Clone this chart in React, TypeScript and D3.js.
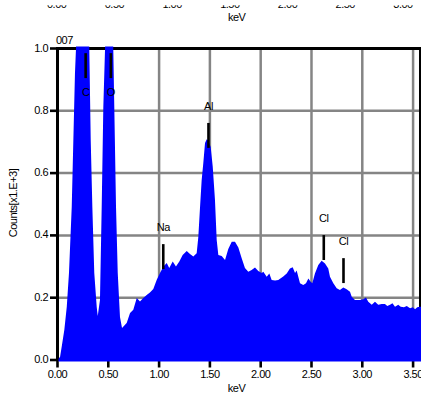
import React from "react";
import * as d3 from "d3";

// Spectrum samples: energy (keV) and counts (x1000)
const energies = [
  0.0, 0.025, 0.044, 0.067, 0.091, 0.113, 0.14, 0.156, 0.172, 0.182, 0.25, 0.313, 0.327, 0.343, 0.362, 0.386,
  0.396, 0.418, 0.435, 0.451, 0.468, 0.507, 0.549, 0.559, 0.576, 0.593, 0.615, 0.635, 0.681, 0.714, 0.746,
  0.78, 0.812, 0.844, 0.878, 0.91, 0.943, 0.976, 1.009, 1.041, 1.075, 1.1, 1.134, 1.166, 1.199, 1.232, 1.272,
  1.304, 1.337, 1.37, 1.386, 1.403, 1.419, 1.435, 1.452, 1.469, 1.484, 1.508, 1.528, 1.55, 1.567, 1.583,
  1.616, 1.649, 1.681, 1.715, 1.747, 1.78, 1.813, 1.845, 1.878, 1.911, 1.944, 1.976, 2.01, 2.026, 2.059,
  2.085, 2.108, 2.141, 2.173, 2.222, 2.256, 2.288, 2.315, 2.338, 2.354, 2.387, 2.419, 2.446, 2.469, 2.492,
  2.508, 2.534, 2.567, 2.6, 2.633, 2.665, 2.682, 2.715, 2.748, 2.78, 2.813, 2.846, 2.879, 2.896, 2.928,
  2.977, 3.01, 3.036, 3.059, 3.093, 3.125, 3.157, 3.191, 3.223, 3.246, 3.273, 3.297, 3.322, 3.354, 3.378,
  3.41, 3.438, 3.47, 3.497, 3.519, 3.541, 3.568, 3.6,
];
const counts = [
  0.002, 0.01, 0.048, 0.096, 0.17, 0.279, 0.491, 0.706, 0.921, 1.0, 2.4, 1.0, 0.706, 0.491, 0.279, 0.17,
  0.141, 0.193, 0.491, 0.812, 1.0, 1.8, 1.0, 0.812, 0.491, 0.279, 0.138, 0.103, 0.119, 0.151, 0.161,
  0.199, 0.188, 0.199, 0.209, 0.217, 0.228, 0.257, 0.279, 0.299, 0.311, 0.295, 0.316, 0.3, 0.316, 0.337, 0.35,
  0.34, 0.332, 0.343, 0.395, 0.491, 0.578, 0.632, 0.697, 0.709, 0.705, 0.684, 0.62, 0.514, 0.385, 0.337,
  0.334, 0.321, 0.356, 0.38, 0.38, 0.361, 0.327, 0.295, 0.283, 0.289, 0.297, 0.286, 0.279, 0.283, 0.267,
  0.278, 0.257, 0.255, 0.257, 0.268, 0.278, 0.294, 0.298, 0.279, 0.287, 0.246, 0.241, 0.246, 0.262, 0.251,
  0.246, 0.278, 0.305, 0.319, 0.31, 0.294, 0.267, 0.246, 0.23, 0.225, 0.233, 0.227, 0.219, 0.203, 0.193,
  0.193, 0.195, 0.201, 0.187, 0.177, 0.187, 0.177, 0.18, 0.18, 0.173, 0.177, 0.182, 0.171, 0.177, 0.171,
  0.169, 0.173, 0.166, 0.169, 0.163, 0.169, 0.171, 0.17,
];

// Element identification markers
const elements = ["C", "O", "Na", "Al", "Cl", "Cl"];
const lineEnergies = [0.277, 0.525, 1.041, 1.486, 2.621, 2.815];
const markerTops = [0.985, 0.985, 0.372, 0.761, 0.401, 0.327];

// Axis ticks
const xTicks = [0, 0.5, 1.0, 1.5, 2.0, 2.5, 3.0, 3.5];
const yTicks = [0, 0.2, 0.4, 0.6, 0.8, 1.0];
const upperTicks = [0, 0.5, 1.0, 1.5, 2.0, 2.5, 3.0];

const FONT = "'Liberation Sans', Arial, Helvetica, sans-serif";

export default function App() {
  const W = 421;
  const H = 394;
  const x = d3.scaleLinear().domain([0, 3.57]).range([57.5, 420.2]);
  const y = d3.scaleLinear().domain([0, 1]).range([360, 48.5]);
  // axis of the spectrum panel above, mostly out of view
  const xUpper = d3.scaleLinear().domain([0, 3]).range([56.7, 403]);

  const data = energies.map((e, i) => ({ e, c: counts[i] }));
  const area = d3
    .area<{ e: number; c: number }>()
    .x((d) => x(d.e))
    .y0(y(0) + 1.5)
    .y1((d) => y(d.c))
    .curve(d3.curveLinear);

  const markerLen = 0.08;
  const textStyle: React.CSSProperties = { fontFamily: FONT, fontSize: 11, letterSpacing: -0.5 };

  return (
    <svg
      width={W}
      height={H}
      style={{ position: "absolute", left: 0, top: 0, background: "#fff" }}
    >
      <defs>
        <clipPath id="plotClip">
          <rect x={58.5} y={46.5} width={W - 58.5} height={316} />
        </clipPath>
        <clipPath id="upperClip">
          <rect x={0} y={5.3} width={W} height={10} />
        </clipPath>
      </defs>

      {/* remnants of the panel above */}
      <g clipPath="url(#upperClip)" style={textStyle}>
        {upperTicks.map((t) => (
          <text key={t} x={xUpper(t)} y={7.6} textAnchor="middle">
            {t.toFixed(2)}
          </text>
        ))}
      </g>
      <text x={236.7} y={20.5} textAnchor="middle" style={textStyle}>
        keV
      </text>

      {/* grid */}
      <g stroke="#858585" strokeWidth={2.5}>
        {xTicks
          .filter((t) => t > 0)
          .map((t) => (
            <line key={t} x1={x(t)} x2={x(t)} y1={y(1)} y2={y(0)} />
          ))}
        {yTicks
          .filter((t) => t > 0 && t < 1)
          .map((t) => (
            <line key={t} x1={x(0)} x2={W} y1={y(t)} y2={y(t)} />
          ))}
      </g>

      {/* frame */}
      <line x1={x(0)} x2={W} y1={y(1)} y2={y(1)} stroke="#000" strokeWidth={3} />
      <line x1={x(0)} x2={x(0)} y1={y(1) - 1.5} y2={y(0) + 1} stroke="#000" strokeWidth={3} />
      <line x1={420} x2={420} y1={y(1)} y2={y(0)} stroke="#000" strokeWidth={2} />

      {/* ticks */}
      <g stroke="#000" strokeWidth={2.6}>
        {yTicks.map((t) => (
          <line key={t} x1={50} x2={x(0)} y1={y(t)} y2={y(t)} />
        ))}
        {xTicks.map((t) => (
          <line key={t} x1={x(t)} x2={x(t)} y1={y(0) + 1} y2={y(0) + 7.5} />
        ))}
      </g>
      <g style={textStyle}>
        {yTicks.map((t) => (
          <text key={t} x={48} y={y(t) + 3} textAnchor="end">
            {t.toFixed(1)}
          </text>
        ))}
        {xTicks.map((t) => (
          <text key={t} x={x(t)} y={378} textAnchor="middle">
            {t.toFixed(2)}
          </text>
        ))}
      </g>
      <text x={236.5} y={391.5} textAnchor="middle" style={textStyle}>
        keV
      </text>
      <text
        transform={`translate(17,203) rotate(-90)`}
        textAnchor="middle"
        style={textStyle}
      >
        Counts[x1.E+3]
      </text>
      <text x={56} y={43.5} style={textStyle}>
        007
      </text>

      {/* spectrum */}
      <path d={area(data) ?? ""} fill="#0000ff" clipPath="url(#plotClip)" />

      {/* element markers */}
      {elements.map((el, i) => {
        const top = markerTops[i];
        const below = top > 0.95;
        const lx = x(lineEnergies[i]);
        return (
          <g key={i}>
            <line
              x1={lx}
              x2={lx}
              y1={y(top)}
              y2={y(top - markerLen)}
              stroke="#000"
              strokeWidth={2.6}
            />
            <text
              x={lx}
              y={below ? y(top - markerLen) + 18 : y(top) - 13.3}
              textAnchor="middle"
              style={textStyle}
            >
              {el}
            </text>
          </g>
        );
      })}
    </svg>
  );
}
